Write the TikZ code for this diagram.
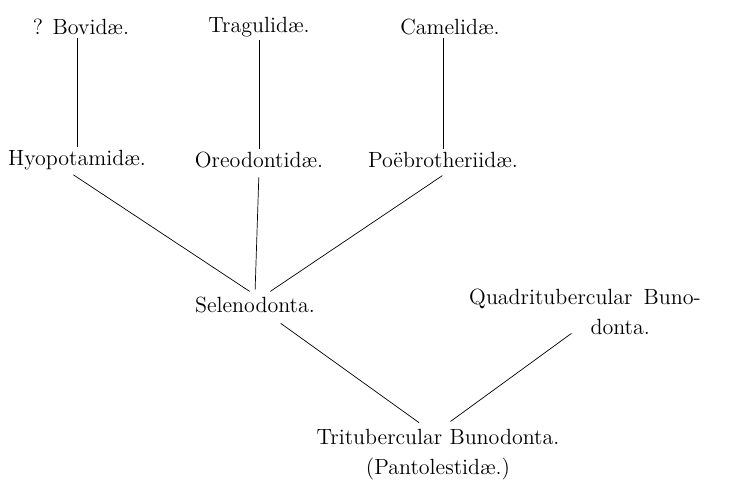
\documentclass[tikz,border=0pt]{standalone}
\usepackage{fontspec}
\usetikzlibrary{positioning}

\tikzset{
  family/.style={inner sep=1.5pt, font=\fontsize{11}{15}\selectfont},
  branch/.style={line width=0.35pt, black}
}

\begin{document}
\begin{tikzpicture}[x=0.5pt,y=-0.5pt]
  \useasboundingbox (0,0) rectangle (740,487);

  % top row
  \node[family] (bov) at (81,27) {? Bovidæ.};
  \node[family] (tra) at (259,27) {Tragulidæ.};
  \node[family] (cam) at (450,27) {Camelidæ.};

  % second row
  \node[family] (hyo) at (77,160) {Hyopotamidæ.};
  \node[family] (ore) at (259,160) {Oreodontidæ.};
  \node[family] (poe) at (443,160) {Poëbrotheriidæ.};

  % lower stems
  \node[family] (sel) at (255,305) {Selenodonta.};
  \node[family, align=center] (quad) at (585,312)
    {Quadritubercular\enspace Buno-\\\hspace*{3.2em}donta.};
  \node[family, align=center] (tri) at (438,455)
    {Tritubercular Bunodonta.\\(Pantolestidæ.)};

  \draw[branch] (bov.south -| hyo.north) -- (hyo.north);
  \draw[branch] (tra.south) -- (tra.south |- ore.north);
  \draw[branch] (cam.south -| poe.north) -- (poe.north);

  \draw[branch, shorten <=5pt, shorten >=2pt] ([xshift=-6pt,yshift=2pt]hyo.south) -- ([xshift=-1pt]sel.north);
  \draw[branch, shorten <=3pt, shorten >=2pt] (ore.south) -- (sel.north);
  \draw[branch, shorten <=4pt, shorten >=2pt] ([xshift=3pt]poe.south) -- ([xshift=6pt]sel.north);

  \draw[branch, shorten <=6pt, shorten >=3pt] ([xshift=8pt]sel.south) -- ([xshift=-7pt]tri.north);
  \draw[branch, shorten <=1pt, shorten >=4pt] ([xshift=-6pt,yshift=3pt]quad.south) -- ([xshift=3pt]tri.north);
\end{tikzpicture}
\end{document}
